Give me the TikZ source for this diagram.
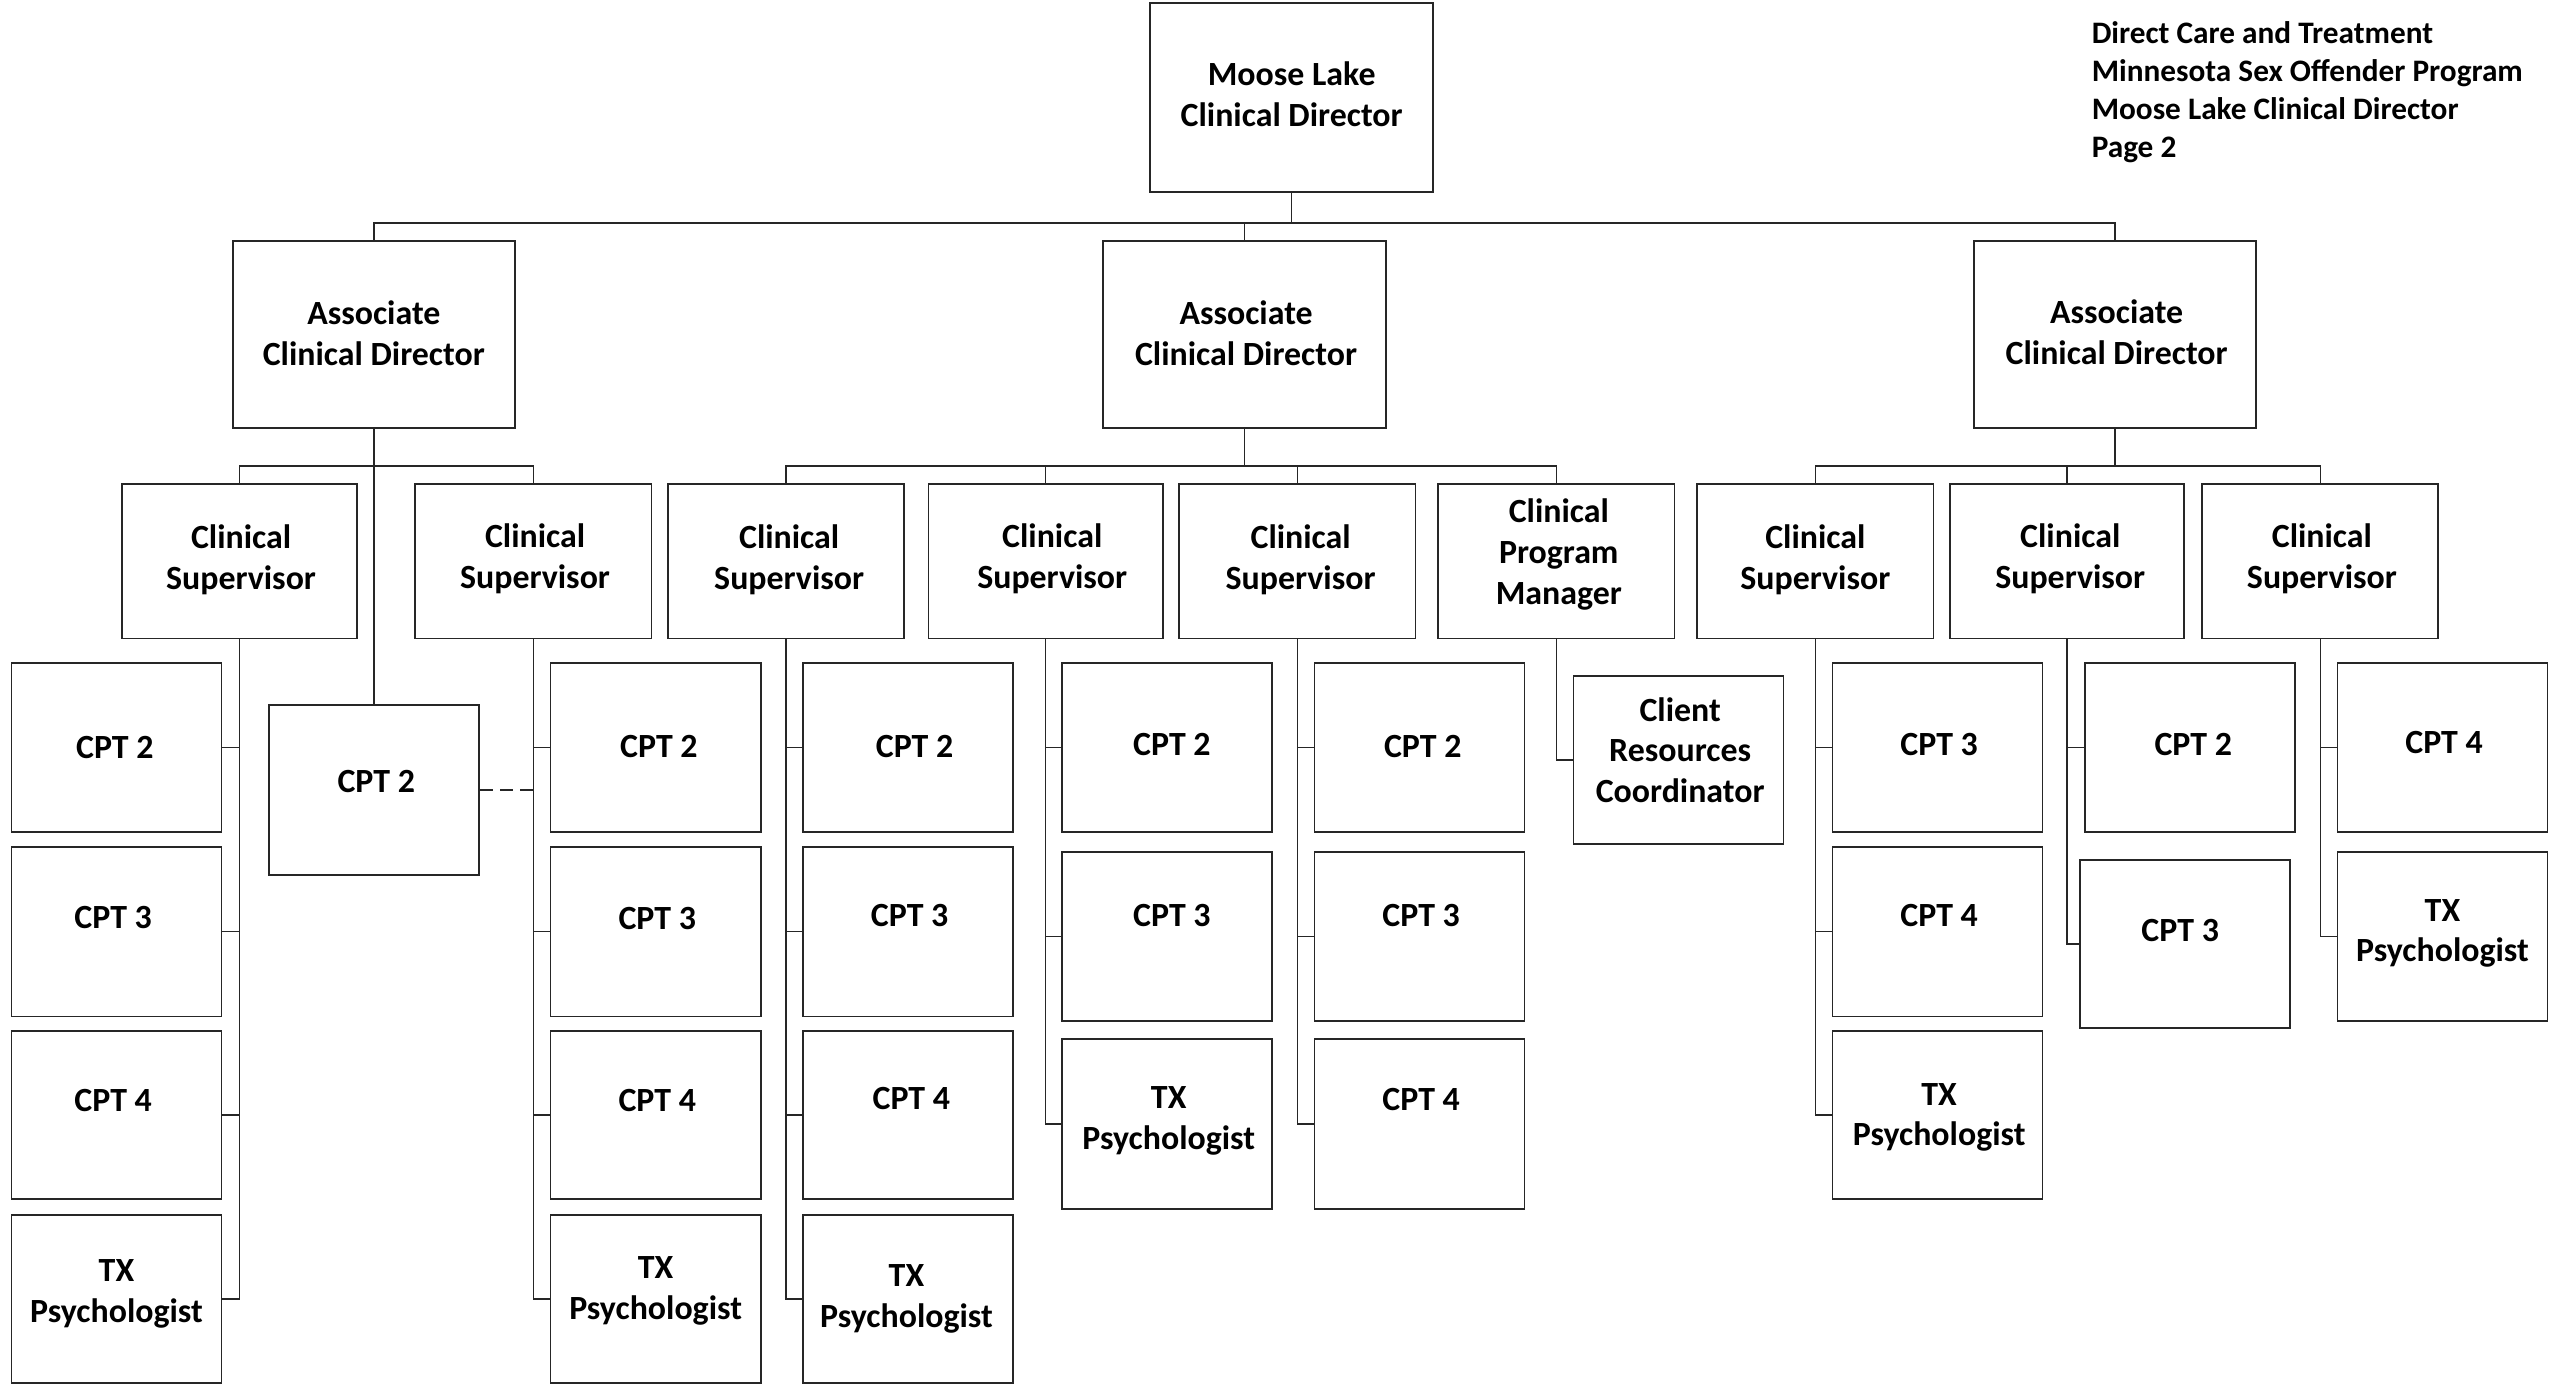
\documentclass[tikz,border=0pt]{standalone}
\usepackage{fontspec}
\setmainfont{Carlito}
\begin{document}
\begin{tikzpicture}[x=1pt,y=-1pt,
  box/.style={draw=black!85,line width=1.1pt,fill=white,inner sep=0pt},
  boxtext/.style={inner sep=0pt,align=center,font=\bfseries\fontsize{20.8}{25}\selectfont},
  conn/.style={draw=black!85,line width=0.9pt}]
\useasboundingbox[fill=white] (0,0) rectangle (1568,851);
% #1 = shift of the text, #2 name, #3..#6 = x1 y1 x2 y2, #7 text
\newcommand\bx[7][]{\node[box,minimum width={(#5-#3)*1pt},minimum height={(#6-#4)*1pt},
  label={[boxtext,#1]center:{#7}}] (#2) at ({(#3+#5)/2},{(#4+#6)/2}) {};}
% header
\node[anchor=north west,inner sep=0pt,align=left,font=\bfseries\fontsize{19.2}{23.3}\selectfont] (hdr) at (1284,13)
  {Direct Care and Treatment\\Minnesota Sex Offender Program\\Moose Lake Clinical Director\\Page 2};
% level 0/1
\bx[yshift=2pt]{top}{706}{2}{880}{118}{Moose Lake\\Clinical Director}
\bx[yshift=1pt]{acdA}{143}{148}{316}{263}{Associate\\Clinical Director}
\bx[yshift=1pt,xshift=1pt]{acdB}{677}{148}{851}{263}{Associate\\Clinical Director}
\bx[yshift=1.5pt,xshift=1pt]{acdC}{1212}{148}{1385}{263}{Associate\\Clinical Director}
% level 2
\bx[yshift=1pt,xshift=1pt]{csA}{75}{297}{219}{392}{Clinical\\Supervisor}
\bx[yshift=1.5pt,xshift=1pt]{csB}{255}{297}{400}{392}{Clinical\\Supervisor}
\bx[yshift=1pt,xshift=2pt]{csC}{410}{297}{555}{392}{Clinical\\Supervisor}
\bx[yshift=1.5pt,xshift=4pt]{csD}{570}{297}{714}{392}{Clinical\\Supervisor}
\bx[yshift=1pt,xshift=2pt]{csE}{724}{297}{869}{392}{Clinical\\Supervisor}
\bx[yshift=4pt,xshift=1.5pt]{cpm}{883}{297}{1028}{392}{Clinical\\Program\\Manager}
\bx[yshift=1pt]{csF}{1042}{297}{1187}{392}{Clinical\\Supervisor}
\bx[yshift=1.5pt,xshift=2pt]{csG}{1197}{297}{1341}{392}{Clinical\\Supervisor}
\bx[yshift=1.5pt,xshift=1pt]{csH}{1352}{297}{1497}{392}{Clinical\\Supervisor}
% middle CPT 2
\bx[yshift=5pt,xshift=1.5pt]{mid}{165}{433}{294}{537}{CPT 2}
% csA children
\bx[xshift=-1pt]{a1}{7}{407}{136}{511}{CPT 2}
\bx[yshift=9pt,xshift=-2pt]{a2}{7}{520}{136}{624}{CPT 3}
\bx[yshift=9pt,xshift=-2pt]{a3}{7}{633}{136}{736}{CPT 4}
\bx[yshift=3pt]{a4}{7}{746}{136}{849}{TX\\Psychologist}
% csB children
\bx[yshift=1pt,xshift=2pt]{b1}{338}{407}{467}{511}{CPT 2}
\bx[yshift=8pt,xshift=1pt]{b2}{338}{520}{467}{624}{CPT 3}
\bx[yshift=9pt,xshift=1pt]{b3}{338}{633}{467}{736}{CPT 4}
\bx[yshift=5pt]{b4}{338}{746}{467}{849}{TX\\Psychologist}
% csC children
\bx[yshift=1pt,xshift=4pt]{c1}{493}{407}{622}{511}{CPT 2}
\bx[yshift=10pt,xshift=1pt]{c2}{493}{520}{622}{624}{CPT 3}
\bx[yshift=10pt,xshift=2pt]{c3}{493}{633}{622}{736}{CPT 4}
\bx[xshift=-1pt]{c4}{493}{746}{622}{849}{TX\\Psychologist}
% csD children
\bx[yshift=2pt,xshift=3pt]{d1}{652}{407}{781}{511}{CPT 2}
\bx[yshift=13pt,xshift=3pt]{d2}{652}{523}{781}{627}{CPT 3}
\bx[yshift=2pt,xshift=1pt]{d3}{652}{638}{781}{742}{TX\\Psychologist}
% csE children
\bx[yshift=1pt,xshift=2pt]{e1}{807}{407}{936}{511}{CPT 2}
\bx[yshift=13pt,xshift=1pt]{e2}{807}{523}{936}{627}{CPT 3}
\bx[yshift=15pt,xshift=1pt]{e3}{807}{638}{936}{742}{CPT 4}
% cpm child
\bx[yshift=6pt,xshift=1pt]{crc}{966}{415}{1095}{518}{Client\\Resources\\Coordinator}
% csF children
\bx[yshift=2pt,xshift=1pt]{f1}{1125}{407}{1254}{511}{CPT 3}
\bx[yshift=10pt,xshift=1pt]{f2}{1125}{520}{1254}{624}{CPT 4}
\bx[yshift=-1.5pt,xshift=1pt]{f3}{1125}{633}{1254}{736}{TX\\Psychologist}
% csG children
\bx[yshift=2pt,xshift=2pt]{g1}{1280}{407}{1409}{511}{CPT 2}
\bx[yshift=8pt,xshift=-3pt]{g2}{1277}{528}{1406}{631}{CPT 3}
% csH children
\bx[yshift=3pt,xshift=1pt]{h1}{1435}{407}{1564}{511}{CPT 4}
\bx[yshift=2pt]{h2}{1435}{523}{1564}{627}{TX\\Psychologist}
% buses
\coordinate (busA) at (0,137);
\coordinate (busB) at (0,286);
\draw[conn] (top.south) -- (top.south|-busA) -| (acdA.north);
\draw[conn] (top.south|-busA) -| (acdC.north);
\draw[conn] (top.south|-busA) -| (acdB.north);
\draw[conn] (acdA.south) -- (acdA.south|-busB) -| (csA.north);
\draw[conn] (acdA.south|-busB) -| (csB.north);
\draw[conn] (acdA.south) -- (mid.north);
\draw[conn,dash pattern=on 8pt off 4.5pt] (mid.east) -- (mid.east-|csB.south);
\draw[conn] (acdB.south) -- (acdB.south|-busB) -| (csC.north);
\draw[conn] (acdB.south|-busB) -| (csD.north);
\draw[conn] (acdB.south|-busB) -| (csE.north);
\draw[conn] (acdB.south|-busB) -| (cpm.north);
\draw[conn] (acdC.south) -- (acdC.south|-busB) -| (csF.north);
\draw[conn] (acdC.south|-busB) -| (csG.north);
\draw[conn] (acdC.south|-busB) -| (csH.north);
% children connectors
\foreach \c in {a1,a2,a3,a4} \draw[conn] (csA.south) |- (\c.east);
\foreach \c in {b1,b2,b3,b4} \draw[conn] (csB.south) |- (\c.west);
\foreach \c in {c1,c2,c3,c4} \draw[conn] (csC.south) |- (\c.west);
\foreach \c in {d1,d2,d3} \draw[conn] (csD.south) |- (\c.west);
\foreach \c in {e1,e2,e3} \draw[conn] (csE.south) |- (\c.west);
\draw[conn] (cpm.south) |- (crc.west);
\foreach \c in {f1,f2,f3} \draw[conn] (csF.south) |- (\c.west);
\foreach \c in {g1,g2} \draw[conn] (csG.south) |- (\c.west);
\foreach \c in {h1,h2} \draw[conn] (csH.south) |- (\c.west);
\end{tikzpicture}
\end{document}
